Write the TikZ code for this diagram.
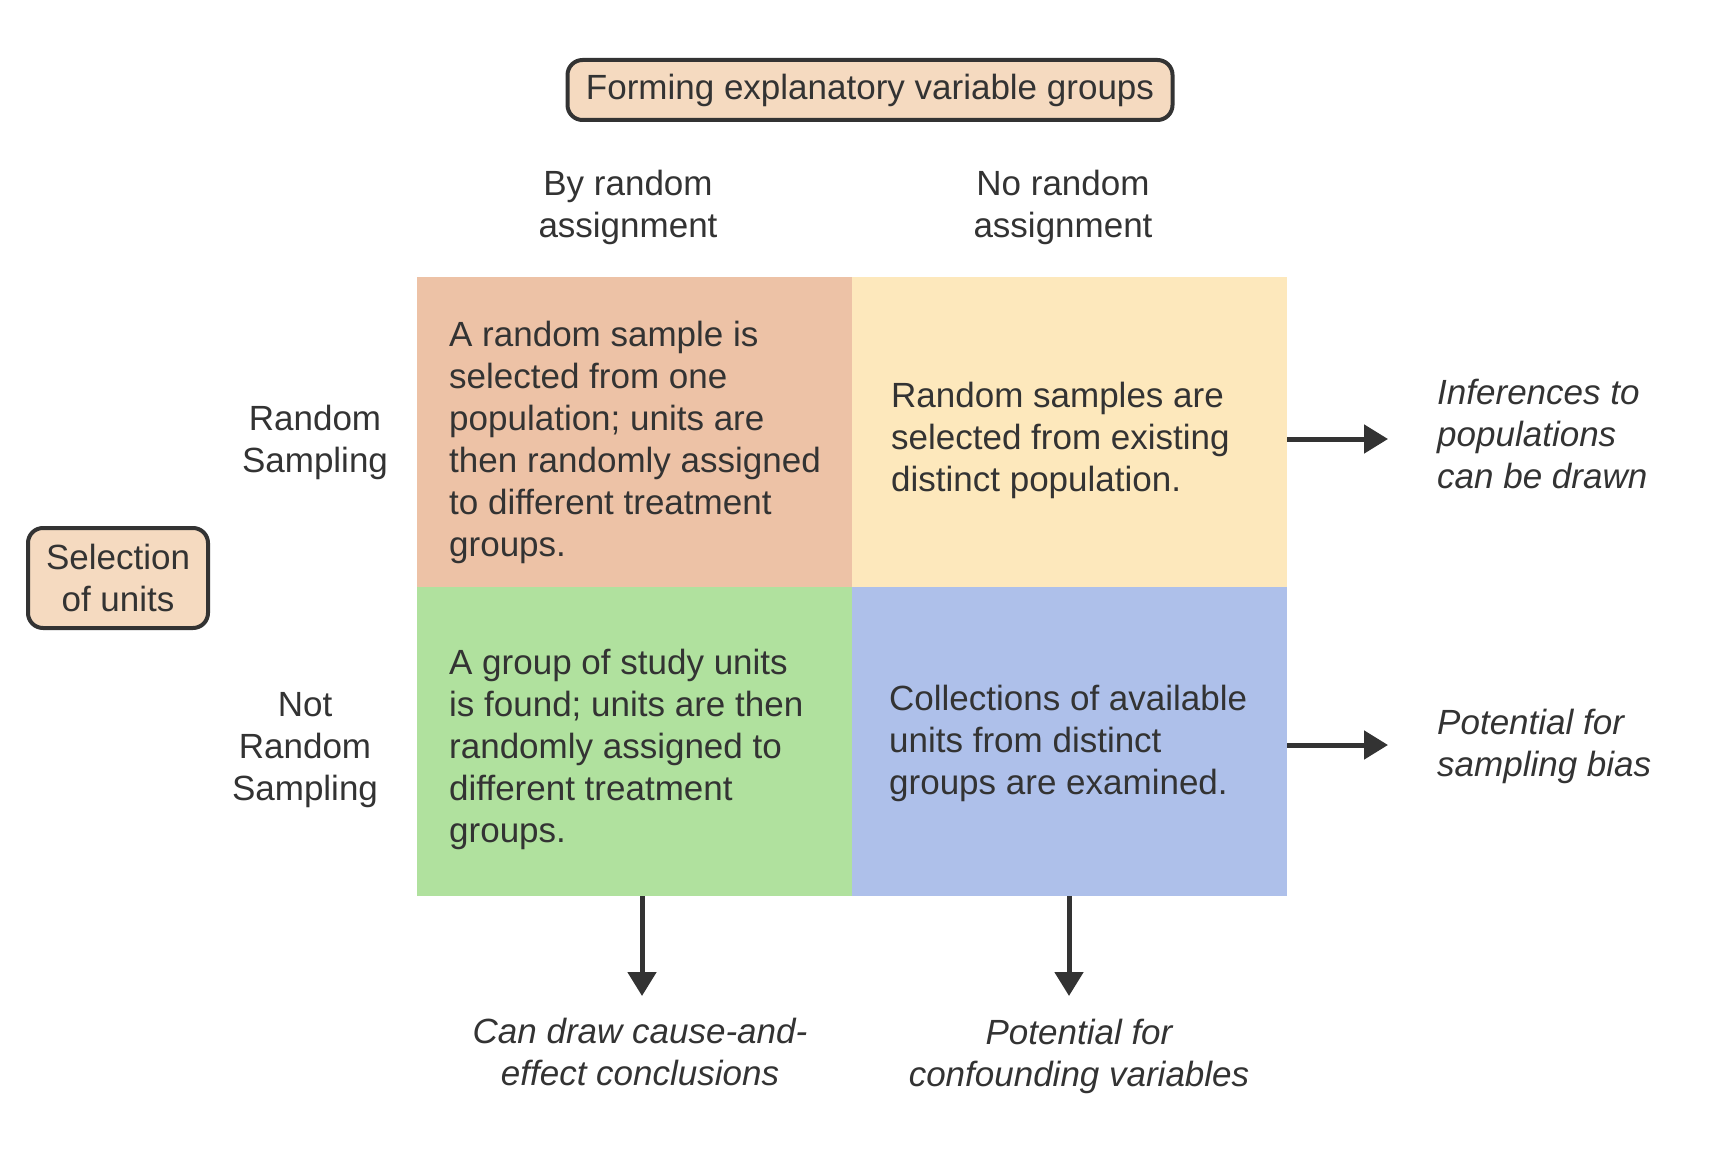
\documentclass[tikz,border=0pt]{standalone}
\usepackage{fontspec}
\setmainfont{Liberation Sans}
\usetikzlibrary{arrows.meta}
\definecolor{ink}{HTML}{333333}
\definecolor{boxfill}{HTML}{F5DAC0}
\definecolor{cellA}{HTML}{EDC2A6}
\definecolor{cellB}{HTML}{FDE8BC}
\definecolor{cellC}{HTML}{B0E19E}
\definecolor{cellD}{HTML}{AEC0EA}
\tikzset{
  txt/.style={text=ink, inner sep=0pt, font=\fontsize{35}{42}\selectfont},
  itxt/.style={txt, font=\fontsize{35}{42}\selectfont\itshape},
  hbox/.style={txt, draw=ink, line width=4pt, fill=boxfill, rounded corners=15pt},
  cell/.style={inner sep=0pt, minimum width=435pt, minimum height=309.5pt},
  ctext/.style={txt, align=left, anchor=west},
  arr/.style={draw=ink, line width=5pt, -{Triangle[length=24pt,width=28pt]}}
}
\begin{document}
\begin{tikzpicture}[x=1pt,y=-1pt]
\useasboundingbox (0,0) rectangle (1736,1150);
% title
\node[hbox, minimum width=605pt, minimum height=60pt] (title) at (870,90) {Forming explanatory variable groups};
% column headers
\node[txt, align=center] (colA) at (628,207) {By random\\assignment};
\node[txt, align=center] (colB) at (1063,207) {No random\\assignment};
% cells
\node[cell, fill=cellA] (cA) at (634.5,431.75) {};
\node[cell, fill=cellB] (cB) at (1069.5,431.75) {};
\node[cell, fill=cellC] (cC) at (634.5,741.25) {};
\node[cell, fill=cellD] (cD) at (1069.5,741.25) {};
\node[ctext] (tA) at (449,442) {A random sample is\\selected from one\\population; units are\\then randomly assigned\\to different treatment\\groups.};
\node[ctext] (tB) at (891,440) {Random samples are\\selected from existing\\distinct population.};
\node[ctext] (tC) at (449,749) {A group of study units\\is found; units are then\\randomly assigned to\\different treatment\\groups.};
\node[ctext] (tD) at (889,743) {Collections of available\\units from distinct\\groups are examined.};
% row labels
\node[txt, align=center] (rowA) at (315,442) {Random\\Sampling};
\node[txt, align=center] (rowB) at (305,750) {Not\\Random\\Sampling};
\node[hbox, align=center, minimum width=180pt, minimum height=100pt] (sel) at (118,578) {Selection\\of units};
% outcome labels
\node[itxt, align=left, anchor=west] (infer) at (1437,434) {Inferences to\\populations\\can be drawn};
\node[itxt, align=left, anchor=west] (bias) at (1437,746) {Potential for\\sampling bias};
\node[itxt, align=center] (cause) at (640,1052) {Can draw cause-and-\\effect conclusions};
\node[itxt, align=center] (conf) at (1079,1056) {Potential for\\confounding variables};
% arrows
\coordinate (r1s) at (cB.east |- 0,439);
\coordinate (r1e) at (1388,439);
\coordinate (r2s) at (cD.east |- 0,745);
\coordinate (r2e) at (1388,745);
\coordinate (d1s) at (cC.south -| 642,0);
\coordinate (d1e) at (642,996);
\coordinate (d2s) at (cD.south -| 1069,0);
\coordinate (d2e) at (1069,996);
\draw[arr] (r1s) -- (r1e);
\draw[arr] (r2s) -- (r2e);
\draw[arr] (d1s) -- (d1e);
\draw[arr] (d2s) -- (d2e);
\end{tikzpicture}
\end{document}
